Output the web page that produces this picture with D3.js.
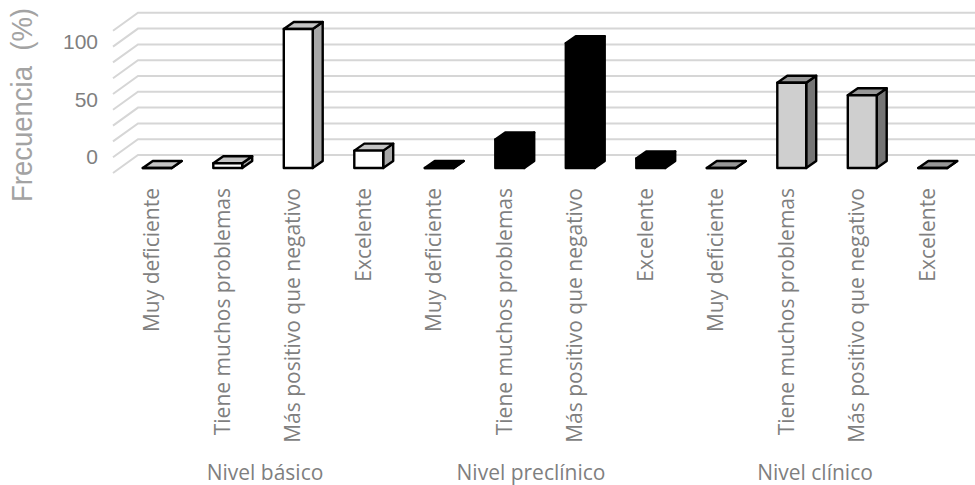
<!DOCTYPE html>
<html>
<head>
<meta charset="utf-8">
<script src="https://cdn.jsdelivr.net/npm/d3@7"></script>
<style>
  html, body { margin: 0; padding: 0; background: #fff; }
  svg { display: block; }
  text { font-family: "Open Sans", sans-serif; fill: #7f7f7f; }
</style>
</head>
<body>
<div id="data-vis"></div>
<script>
// data
var groups = ["Nivel básico", "Nivel preclínico", "Nivel clínico"];
var categories = ["Muy deficiente", "Tiene muchos problemas", "Más positivo que negativo", "Excelente"];
var basico = [0, 3, 88, 11];
var preclinico = [0, 18, 79, 6];
var clinico = [0, 54, 46, 0];
var gridValues = [0, 10, 20, 30, 40, 50, 60, 70, 80, 90];
var tickLabels = [0, 50, 100];

var width = 975, height = 485;

// front, top and side shade of the boxes in each group
var shades = [
  {front: "#ffffff", top: "#c4c4c4", side: "#a8a8a8"},
  {front: "#000000", top: "#000000", side: "#000000"},
  {front: "#cfcfcf", top: "#979797", side: "#757575"}
];

var rows = [];
[basico, preclinico, clinico].forEach(function(vals, g) {
  vals.forEach(function(v, c) {
    rows.push({group: g, cat: categories[c], value: v, key: g + "-" + c});
  });
});

var svg = d3.select("#data-vis")
  .append("svg")
    .attr("width", width)
    .attr("height", height);

var x = d3.scaleBand()
  .domain(rows.map(function(d) { return d.key; }))
  .range([122, 968])
  .paddingInner(0.59)
  .paddingOuter(0.295);

var y = d3.scaleLinear()
  .domain([0, 100])
  .range([168, 10]);

// depth of the box and of the wall
var depthX = 10, depthY = 7;
var wallX = 25, wallY = 18, wallBack = 13;

// gridlines, back wall plus the slanted piece on the side wall
var grid = svg.append("g");
grid.selectAll("path")
  .data(gridValues)
  .enter().append("path")
    .attr("d", function(d) {
      var b = y(d) - wallBack;
      return "M113," + (b + wallY) + "L" + (113 + wallX) + "," + b + "L975," + b;
    })
    .attr("fill", "none")
    .attr("stroke", "#d6d6d6")
    .attr("stroke-width", 2);

// tick labels do not sit on the gridlines in the original, they have their own scale
var yLabels = d3.scaleLinear().domain([0, 100]).range([157, 42]);
var yAxis = svg.append("g")
  .attr("transform", "translate(98,0)")
  .call(d3.axisLeft(yLabels).tickValues(tickLabels).tickSize(0).tickPadding(0));
yAxis.select(".domain").remove();
yAxis.selectAll("text")
  .style("font-family", "'Liberation Sans', sans-serif")
  .style("font-size", "21px")
  .attr("fill", null);

// boxes
var bars = svg.selectAll(".bar")
  .data(rows)
  .enter().append("g")
    .attr("class", "bar");

function boxPath(d, face) {
  var x0 = x(d.key), x1 = x0 + x.bandwidth();
  var y0 = y(0), y1 = y(d.value);
  if (face == "front") return [[x0, y0], [x1, y0], [x1, y1], [x0, y1]];
  if (face == "top") return [[x0, y1], [x1, y1], [x1 + depthX, y1 - depthY], [x0 + depthX, y1 - depthY]];
  return [[x1, y0], [x1 + depthX, y0 - depthY], [x1 + depthX, y1 - depthY], [x1, y1]];
}

["side", "top", "front"].forEach(function(face) {
  bars.append("polygon")
    .attr("points", function(d) { return boxPath(d, face).join(" "); })
    .attr("fill", function(d) { return shades[d.group][face]; })
    .attr("stroke", "#000")
    .attr("stroke-width", 2.4)
    .attr("stroke-linejoin", "round");
});

// category labels, rotated and hanging from the top
svg.selectAll(".cat")
  .data(rows)
  .enter().append("text")
    .attr("class", "cat")
    .attr("transform", function(d) {
      return "translate(" + (x(d.key) + x.bandwidth() / 2 + 2) + ",188) rotate(-90)";
    })
    .attr("text-anchor", "end")
    .style("font-size", "21px")
    .text(function(d) { return d.cat; });

// group labels, unevenly spaced in the original
var groupX = d3.scaleOrdinal().domain(groups).range([265, 531, 815]);
svg.selectAll(".group")
  .data(groups)
  .enter().append("text")
    .attr("class", "group")
    .attr("x", function(d) { return groupX(d); })
    .attr("y", 480)
    .attr("text-anchor", "middle")
    .style("font-size", "21px")
    .text(function(d) { return d; });

// y title
svg.append("text")
  .attr("transform", "translate(32,202) rotate(-90) scale(1,1.07)")
  .style("font-family", "'Liberation Sans', sans-serif")
  .style("font-size", "27.5px")
  .style("fill", "#a3a3a3")
  .style("white-space", "pre")
  .text("Frecuencia  (%)");
</script>
</body>
</html>
